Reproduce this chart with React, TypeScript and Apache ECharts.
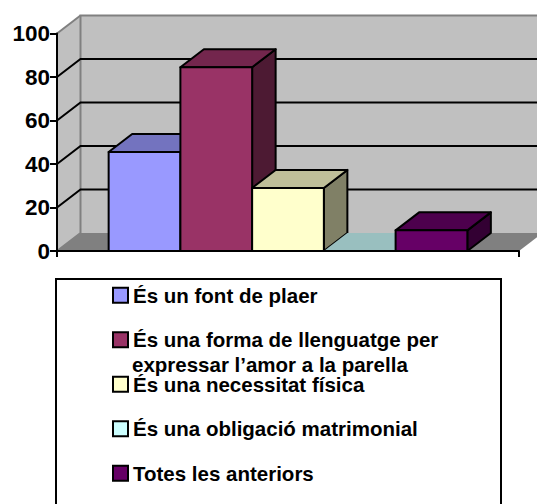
import React, { useEffect, useRef } from "react";
import * as echarts from "echarts";

const categories = [""];
const seriesNames = [
  "És un font de plaer",
  "És una forma de llenguatge per",
  "És una necessitat física",
  "És una obligació matrimonial",
  "Totes les anteriors",
];
const secondLine = "expressar l’amor a la parella";
const seriesValues = [45.5, 84.5, 29, 0, 9.5];
const frontColors = ["#9999FF", "#993366", "#FFFFCC", "#CCFFFF", "#660066"];
const topColors = ["#7373BF", "#73264D", "#BFBF99", "#99BFBF", "#4D004D"];
const sideColors = ["#5C5C99", "#4D1A33", "#808066", "#668080", "#330033"];
const yTicks = [0, 20, 40, 60, 80, 100];
const innerTicks = [20, 40, 60, 80];

const DX = 23.5;
const DY = 18;
const GAP = 1.44;
const FONT = "Liberation Sans";

function pts(a: number[][]) {
  return a.map((p) => [p[0], p[1]]);
}

function renderWalls(_: any, api: any) {
  const t = api.coord([0, 100]);
  const b = api.coord([0, 0]);
  const w = api.size([1, 0])[0];
  const l = t[0] - w / 2;
  const r = t[0] + w / 2;
  const yt = t[1];
  const yb = b[1];
  const fill = "#C0C0C0";
  const gray = "#808080";
  return {
    type: "group",
    children: [
      { type: "polygon", shape: { points: pts([[l + DX, yt - DY], [r + DX, yt - DY], [r + DX, yb - DY], [l + DX, yb - DY]]) }, style: { fill } },
      { type: "polygon", shape: { points: pts([[l, yt], [l + DX, yt - DY], [l + DX, yb - DY], [l, yb]]) }, style: { fill } },
      { type: "polygon", shape: { points: pts([[l, yb], [l + DX, yb - DY], [r + DX, yb - DY], [r, yb]]) }, style: { fill: gray } },
      { type: "polyline", shape: { points: pts([[l, yb], [l + DX, yb - DY], [l + DX, yt - DY], [r + DX, yt - DY]]) }, style: { fill: "none", stroke: gray, lineWidth: 2 } },
      { type: "line", shape: { x1: l, y1: yt, x2: l + DX, y2: yt - DY }, style: { stroke: gray, lineWidth: 2 } },
    ],
  };
}

function renderGrid(_: any, api: any) {
  const c = api.coord([0, api.value(1)]);
  const w = api.size([1, 0])[0];
  const l = c[0] - w / 2;
  const r = c[0] + w / 2;
  return {
    type: "polyline",
    shape: { points: pts([[l, c[1]], [l + DX, c[1] - DY], [r + DX, c[1] - DY]]) },
    style: { fill: "none", stroke: "#000", lineWidth: 2 },
  };
}

function makeBar(i: number) {
  return (_: any, api: any) => {
    const v = api.value(1);
    const c = api.coord([0, v]);
    const b = api.coord([0, 0]);
    const band = api.size([1, 0])[0];
    const bw = band / (seriesNames.length + GAP);
    const x0 = c[0] - (seriesNames.length * bw) / 2 + i * bw;
    const x1 = x0 + bw;
    const yt = c[1];
    const yb = b[1];
    const line = v > 0 ? { stroke: "#000", lineWidth: 2, lineJoin: "round" } : {};
    const children: any[] = [
      { type: "polygon", shape: { points: pts([[x1, yt], [x1 + DX, yt - DY], [x1 + DX, yb - DY], [x1, yb]]) }, style: { fill: sideColors[i], ...line } },
      { type: "polygon", shape: { points: pts([[x0, yt], [x0 + DX, yt - DY], [x1 + DX, yt - DY], [x1, yt]]) }, style: { fill: topColors[i], ...line } },
      { type: "polygon", shape: { points: pts([[x0, yt], [x1, yt], [x1, yb], [x0, yb]]) }, style: { fill: frontColors[i], ...line } },
    ];
    return { type: "group", children };
  };
}

export default function App() {
  const ref = useRef<HTMLDivElement>(null);
  useEffect(() => {
    document.body.style.margin = "0";
    const chart = echarts.init(ref.current!, null, { renderer: "svg" });
    const textStyle = { fontFamily: FONT, fontWeight: "bold" as const, fontSize: 20.5, color: "#000" };
    chart.setOption({
      animation: false,
      backgroundColor: "#fff",
      grid: { left: 57, right: 18, top: 33.5, height: 217.5, containLabel: false },
      xAxis: {
        type: "category",
        data: categories,
        z: 6,
        axisLine: { lineStyle: { color: "#000", width: 2 } },
        axisTick: { show: true, length: 6, lineStyle: { color: "#000", width: 2 } },
        axisLabel: { show: false },
        splitLine: { show: false },
      },
      yAxis: {
        type: "value",
        min: 0,
        max: 100,
        interval: 20,
        z: 6,
        axisLine: { show: true, lineStyle: { color: "#000", width: 2 } },
        axisTick: { show: true, length: 7, lineStyle: { color: "#000", width: 2 } },
        axisLabel: { margin: 7, fontFamily: FONT, fontWeight: "bold", fontSize: 22.5, color: "#000", formatter: (v: number) => (yTicks.includes(v) ? String(v) : "") },
        splitLine: { show: false },
      },
      legend: {
        orient: "vertical",
        left: 112,
        top: 284,
        itemWidth: 15,
        itemHeight: 15,
        itemGap: 22,
        selectedMode: false,
        padding: 0,
        align: "left",
        textStyle: { ...textStyle, lineHeight: 22.5, height: 22.5, padding: [0, 0, 0, 0] },
        data: seriesNames.map((name, i) => ({
          name,
          icon: "rect",
          itemStyle: { color: frontColors[i], borderColor: "#000", borderWidth: 2 },
        })),
      },
      graphic: [
        {
          type: "rect",
          z: -1,
          shape: { x: 56, y: 279, width: 445, height: 260 },
          style: { fill: "#fff", stroke: "#000", lineWidth: 2 },
        },
        {
          type: "text",
          z: 10,
          x: 132,
          y: 354,
          style: { text: secondLine, fill: "#000", font: `bold 20.5px "${FONT}"` },
        },
      ],
      series: [
        { type: "custom", name: "walls", renderItem: renderWalls, data: [[0, 100]], silent: true, clip: false },
        { type: "custom", name: "grid", renderItem: renderGrid, data: innerTicks.map((t) => [0, t]), silent: true, clip: false },
        ...seriesNames.map((name, i) => ({
          type: "custom",
          name,
          renderItem: makeBar(i),
          data: [[0, seriesValues[i]]],
          itemStyle: { color: frontColors[i] },
          silent: true,
          clip: false,
        })),
      ],
    });
    return () => chart.dispose();
  }, []);
  return <div ref={ref} style={{ width: 537, height: 504 }} />;
}
